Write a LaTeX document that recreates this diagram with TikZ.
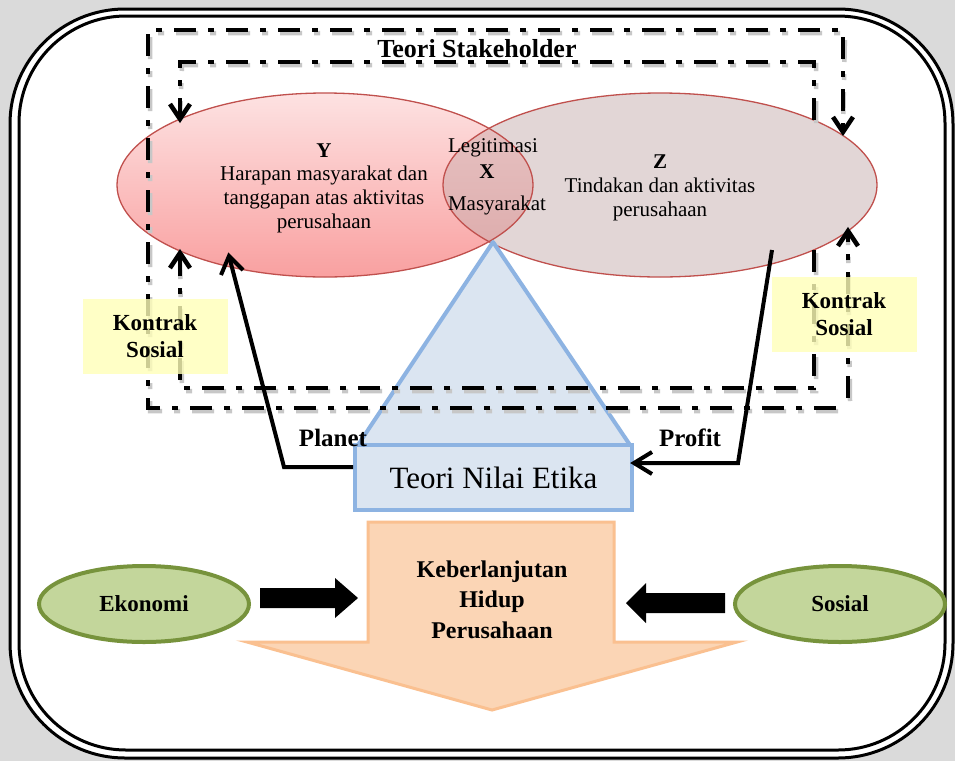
\documentclass[tikz,border=0pt]{standalone}
\usepackage{fontspec}
\setmainfont{Liberation Serif}
\usetikzlibrary{shapes.geometric}
\definecolor{bgGray}{HTML}{DADADA}
\definecolor{Ytop}{HTML}{FDE2E2}
\definecolor{Ybot}{HTML}{F9A0A0}
\definecolor{Zfill}{HTML}{E2D6D6}
\definecolor{LensTop}{HTML}{E8C6C6}
\definecolor{LensBot}{HTML}{DCA8A8}
\definecolor{Ered}{HTML}{C0504D}
\definecolor{Blfill}{HTML}{DBE5F1}
\definecolor{Blline}{HTML}{8DB3E2}
\definecolor{Orfill}{HTML}{FBD5B5}
\definecolor{Orline}{HTML}{FAC090}
\definecolor{Grfill}{HTML}{C3D69B}
\definecolor{Grline}{HTML}{77933C}
\definecolor{Kyel}{HTML}{FFFFB8}
\newcommand\dashlines[1]{%
  \draw[dd,#1] (836,408) -- (148,408) -- (148,30) -- (843,30) -- (tA);
  \draw[dd,#1] (848,398) -- (tB);
  \draw[dd,#1] (814,120) -- (814,62) -- (180,62) -- (tC);
  \draw[dd,#1] (814,250) -- (814,388) -- (180,388) -- (tD);
  \draw[vhead,#1] ([shift={(-10,-15)}]tA) -- (tA) -- ([shift={(10,-15)}]tA);
  \draw[vhead,#1] ([shift={(-10,15)}]tB) -- (tB) -- ([shift={(10,15)}]tB);
  \draw[vhead,#1] ([shift={(-10,-15)}]tC) -- (tC) -- ([shift={(10,-15)}]tC);
  \draw[vhead,#1] ([shift={(-10,15)}]tD) -- (tD) -- ([shift={(10,15)}]tD);
}
\begin{document}
\begin{tikzpicture}[x=1pt,y=-1pt,
  dd/.style={line width=4.5pt, dash pattern=on 22pt off 12pt on 6pt off 12pt},
  vhead/.style={line width=4.5pt, line join=miter},
  body/.style={font=\fontsize{21}{24}\selectfont, anchor=base, inner sep=0pt},
  bodyb/.style={font=\fontsize{21}{24}\selectfont\bfseries, anchor=base, inner sep=0pt},
  lbl/.style={font=\fontsize{25}{30}\selectfont\bfseries, anchor=base, inner sep=0pt},
  kbox/.style={fill=Kyel, fill opacity=0.8, text opacity=1, minimum width=145pt, minimum height=75pt, align=center, inner sep=0pt, font=\fontsize{23}{27}\selectfont\bfseries},
  green/.style={ellipse, fill=Grfill, draw=Grline, line width=4pt, minimum width=210pt, minimum height=76pt, inner sep=0pt, font=\fontsize{23}{27}\selectfont\bfseries},
  fatline/.style={line width=4pt, line join=miter}
]
\useasboundingbox (0,0) rectangle (955,761);
\fill[bgGray] (0,0) rectangle (955,761);
% frame
\fill[white, rounded corners=115pt] (10,9) rectangle (953,758);
\draw[line width=3pt, rounded corners=115pt] (10,9) rectangle (953,758);
\draw[line width=3pt, rounded corners=107pt] (19,16) rectangle (945,750);
% ellipses
\fill[Zfill] (660,185) ellipse [x radius=217, y radius=92];
\shade[top color=Ytop, bottom color=Ybot] (325,185) ellipse [x radius=208, y radius=92];
\begin{scope}
  \clip (660,185) ellipse [x radius=217, y radius=92];
  \shade[top color=LensTop, bottom color=LensBot] (325,185) ellipse [x radius=208, y radius=92];
\end{scope}
\draw[Ered, line width=1.3pt] (660,185) ellipse [x radius=217, y radius=92];
\draw[Ered, line width=1.3pt] (325,185) ellipse [x radius=208, y radius=92];
% triangle and box
\filldraw[fill=Blfill, draw=Blline, line width=4pt, line join=round] (493,242) -- (630,445) -- (358,445) -- cycle;
\node[draw=Blline, fill=Blfill, line width=4pt, minimum width=277pt, minimum height=65pt, inner sep=0pt, font=\fontsize{31}{36}\selectfont] (etika) at (493.5,477.5) {Teori Nilai Etika};
% dash-dot loops
\coordinate (tA) at (843,132);
\coordinate (tB) at (848,231);
\coordinate (tC) at (180,119);
\coordinate (tD) at (180,253);
\dashlines{black!22, shift={(2,3)}}
\dashlines{black}
% Kontrak Sosial boxes
\node[kbox] (kl) at (155,336.5) {Kontrak\\Sosial};
\node[kbox] (kr) at (844,314.5) {Kontrak\\Sosial};
% Planet / Profit arrows
\coordinate (planetTip) at (229,256);
\coordinate (planetBend) at (284,467);
\coordinate (profitStart) at (772,250);
\coordinate (profitBend) at (738,463);
\coordinate (profitTip) at ([yshift=14.5pt]etika.east);
\draw[fatline] ([yshift=10.5pt]etika.west) -- (planetBend) -- (planetTip);
\draw[fatline] ([shift={(-8,19)}]planetTip) -- (planetTip) -- ([shift={(14,14)}]planetTip);
\draw[fatline] (profitStart) -- (profitBend) -- (profitTip);
\draw[fatline] ([shift={(18,-11)}]profitTip) -- (profitTip) -- ([shift={(18,11)}]profitTip);
\node[lbl] (planet) at (333,446) {Planet};
\node[lbl] (profit) at (690,446) {Profit};
% texts
\node[font=\fontsize{26}{30}\selectfont\bfseries, anchor=base, inner sep=0pt] (title) at (477,57) {Teori Stakeholder};
\node[bodyb] (y0) at (324,157) {Y};
\node[body] (y1) at (324,180) {Harapan masyarakat dan};
\node[body] (y2) at (324,204) {tanggapan atas aktivitas};
\node[body] (y3) at (324,228) {perusahaan};
\node[body] (x1) at (493,152) {Legitimasi};
\node[bodyb] (x0) at (487,178) {X};
\node[body] (x2) at (497,210) {Masyarakat};
\node[bodyb] (z0) at (660,168) {Z};
\node[body] (z1) at (660,192) {Tindakan dan aktivitas};
\node[body] (z2) at (660,216) {perusahaan};
% bottom block arrow
\filldraw[fill=Orfill, draw=Orline, line width=3pt, line join=miter] (368,522) -- (614,522) -- (614,642) -- (737,642) -- (492,710) -- (247,642) -- (368,642) -- cycle;
\node[font=\fontsize{24}{30}\selectfont\bfseries, anchor=base, inner sep=0pt] (k1) at (492,577) {Keberlanjutan};
\node[font=\fontsize{24}{30}\selectfont\bfseries, anchor=base, inner sep=0pt] (k2) at (492,607) {Hidup};
\node[font=\fontsize{24}{30}\selectfont\bfseries, anchor=base, inner sep=0pt] (k3) at (492,638) {Perusahaan};
% green ellipses
\node[green] (eko) at (144,604) {Ekonomi};
\node[green] (sos) at (840,604) {Sosial};
% black block arrows
\fill[black] (260,588) -- (335,588) -- (335,578) -- (358,598) -- (335,618) -- (335,608) -- (260,608) -- cycle;
\fill[black] (725,593) -- (646,593) -- (646,583) -- (626,603) -- (646,623) -- (646,613) -- (725,613) -- cycle;
\end{tikzpicture}
\end{document}
